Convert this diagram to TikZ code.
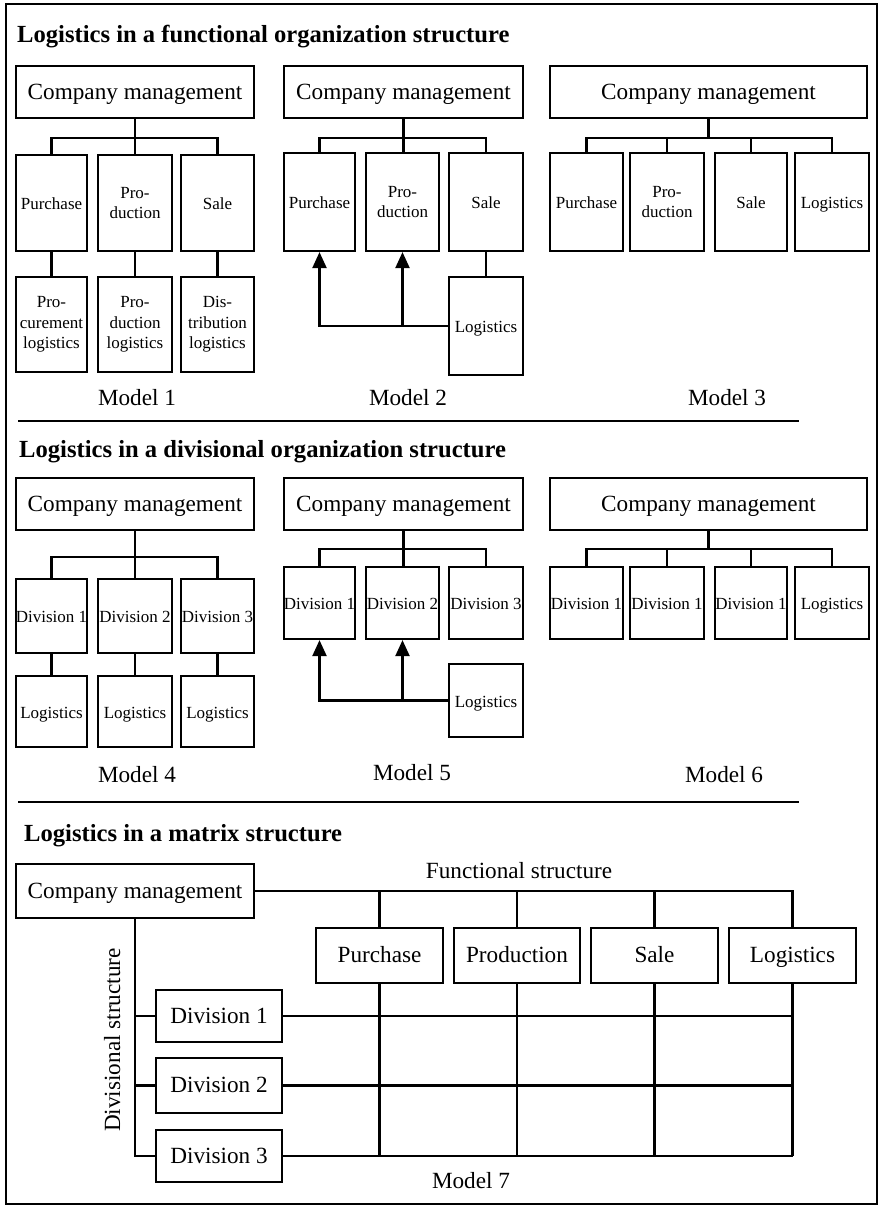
\documentclass[tikz,border=0pt]{standalone}
\usepackage{fontspec}
\setmainfont{Liberation Serif}
\usetikzlibrary{arrows.meta}
\newcommand{\fntbig}{\fontsize{23.2}{27}\selectfont}
\newcommand{\fntsmall}{\fontsize{17}{20.5}\selectfont}
\newcommand{\fnttitle}{\fontsize{24.6}{28}\selectfont\bfseries}
\newcommand{\bx}[7]{\node[#1,minimum width={#4-#2},minimum height={#5-#3}] (#6) at ({(#2+#4)/2},{(#3+#5)/2}) {#7};}
\begin{document}
\begin{tikzpicture}[x=1pt,y=-1pt,
  box/.style={draw,line width=2.2pt,inner sep=0pt,align=center,font=\fntsmall},
  sbox/.style={box,text height=16pt,text depth=2.3pt},
  bigbox/.style={box,font=\fntbig,text height=19pt,text depth=4.4pt},
  conn/.style={line width=2.2pt},
  arr/.style={conn,-{Triangle[length=16pt,width=14pt]}},
  lbl/.style={font=\fntbig,inner sep=0pt,anchor=base},
  ttl/.style={font=\fnttitle,inner sep=0pt,anchor=base west},
  sep/.style={line width=2.7pt}
]
\useasboundingbox (0,0) rectangle (879,1206);
\draw[line width=1.8pt] (6,4) rectangle (877,1204);

% ---------- Section 1 ----------
\node[ttl] (t1) at (17,43) {Logistics in a functional organization structure};

% Model 1
\bx{bigbox}{16}{66}{254}{118}{cma}{Company management}
\bx{sbox}{16}{155}{87}{251}{pua}{Purchase}
\bx{box}{98}{155}{172}{251}{pra}{Pro-\\duction}
\bx{sbox}{181}{155}{254}{251}{saa}{Sale}
\bx{box}{16}{277}{87}{372}{la1}{Pro-\\curement\\logistics}
\bx{box}{98}{277}{172}{372}{la2}{Pro-\\duction\\logistics}
\bx{box}{181}{277}{254}{372}{la3}{Dis-\\tribution\\logistics}
\draw[conn] (cma.south) -- ++(0,19) coordinate (ja);
\draw[conn] (pua.north) |- (ja) -| (saa.north);
\draw[conn] (ja) -- (ja |- pra.north);
\draw[conn] (pua.south) -- (la1.north);
\draw[conn] (pra.south) -- (la2.north);
\draw[conn] (saa.south) -- (la3.north);
\node[lbl] (m1) at (137,405) {Model 1};

% Model 2
\bx{bigbox}{284}{66}{523}{118}{cmb}{Company management}
\bx{sbox}{284}{153}{355}{251}{pub}{Purchase}
\bx{box}{366}{153}{439}{251}{prb}{Pro-\\duction}
\bx{sbox}{449}{153}{523}{251}{sab}{Sale}
\bx{sbox}{449}{277}{523}{375}{lob}{Logistics}
\draw[conn] (cmb.south) -- ++(0,19) coordinate (jb);
\draw[conn] (pub.north) |- (jb) -| (sab.north);
\draw[conn] (jb) -- (jb |- prb.north);
\draw[conn] (sab.south) -- (lob.north);
\draw[arr] (lob.west) -| (pub.south);
\draw[arr] (lob.west -| prb.south) -- (prb.south);
\node[lbl] (m2) at (408,405) {Model 2};

% Model 3
\bx{bigbox}{550}{66}{867}{118}{cmc}{Company management}
\bx{sbox}{550}{153}{623}{251}{puc}{Purchase}
\bx{box}{630}{153}{704}{251}{prc}{Pro-\\duction}
\bx{sbox}{715}{153}{787}{251}{sac}{Sale}
\bx{sbox}{795}{153}{869}{251}{loc}{Logistics}
\draw[conn] (cmc.south) -- ++(0,19) coordinate (jc);
\draw[conn] (puc.north) |- (jc) -| (loc.north);
\draw[conn] (prc.north) -- (prc.north |- jc);
\draw[conn] (sac.north) -- (sac.north |- jc);
\node[lbl] (m3) at (727,405) {Model 3};

\draw[sep] (18,421) -- (799,421);

% ---------- Section 2 ----------
\node[ttl] (t2) at (19,457) {Logistics in a divisional organization structure};

% Model 4
\bx{bigbox}{16}{478}{254}{530}{cmd}{Company management}
\bx{sbox}{16}{579}{87}{653}{d41}{Division 1}
\bx{sbox}{98}{579}{172}{653}{d42}{Division 2}
\bx{sbox}{181}{579}{254}{653}{d43}{Division 3}
\bx{sbox}{16}{676}{87}{747}{l41}{Logistics}
\bx{sbox}{98}{676}{172}{747}{l42}{Logistics}
\bx{sbox}{181}{676}{254}{747}{l43}{Logistics}
\draw[conn] (cmd.south) -- ++(0,26) coordinate (jd);
\draw[conn] (d41.north) |- (jd) -| (d43.north);
\draw[conn] (jd) -- (jd |- d42.north);
\draw[conn] (d41.south) -- (l41.north);
\draw[conn] (d42.south) -- (l42.north);
\draw[conn] (d43.south) -- (l43.north);
\node[lbl] (m4) at (137,782) {Model 4};

% Model 5
\bx{bigbox}{284}{478}{523}{530}{cme}{Company management}
\bx{sbox}{284}{567}{355}{639}{d51}{Division 1}
\bx{sbox}{366}{567}{439}{639}{d52}{Division 2}
\bx{sbox}{449}{567}{523}{639}{d53}{Division 3}
\bx{sbox}{449}{664}{523}{737}{l5}{Logistics}
\draw[conn] (cme.south) -- ++(0,18) coordinate (je);
\draw[conn] (d51.north) |- (je) -| (d53.north);
\draw[conn] (je) -- (je |- d52.north);
\draw[arr] (l5.west) -| (d51.south);
\draw[arr] (l5.west -| d52.south) -- (d52.south);
\node[lbl] (m5) at (412,780) {Model 5};

% Model 6
\bx{bigbox}{550}{478}{867}{530}{cmf}{Company management}
\bx{sbox}{550}{567}{623}{639}{d61}{Division 1}
\bx{sbox}{630}{567}{704}{639}{d62}{Division 1}
\bx{sbox}{715}{567}{787}{639}{d63}{Division 1}
\bx{sbox}{795}{567}{869}{639}{l6}{Logistics}
\draw[conn] (cmf.south) -- ++(0,18) coordinate (jf);
\draw[conn] (d61.north) |- (jf) -| (l6.north);
\draw[conn] (d62.north) -- (d62.north |- jf);
\draw[conn] (d63.north) -- (d63.north |- jf);
\node[lbl] (m6) at (724,782) {Model 6};

\draw[sep] (18,802) -- (799,802);

% ---------- Section 3 ----------
\node[ttl] (t3) at (24,841) {Logistics in a matrix structure};

\bx{bigbox}{16}{864}{254}{918}{cm7}{Company management}
\bx{bigbox}{316}{928}{443}{983}{f1}{Purchase}
\bx{bigbox}{454}{928}{580}{983}{f2}{Production}
\bx{bigbox}{591}{928}{718}{983}{f3}{Sale}
\bx{bigbox}{729}{928}{856}{983}{f4}{Logistics}
\bx{bigbox}{156}{990}{282}{1042}{dv1}{Division 1}
\bx{bigbox}{156}{1058}{282}{1113}{dv2}{Division 2}
\bx{bigbox}{156}{1130}{282}{1182}{dv3}{Division 3}

\node[lbl] (fs) at (519,878) {Functional structure};
\node[font=\fntbig,inner sep=0pt,anchor=base,rotate=90] (ds) at (120,1040) {Divisional structure};

\draw[conn] (cm7.east) -| (f4.north);
\foreach \f in {f1,f2,f3} \draw[conn] (cm7.east -| \f.north) -- (\f.north);
\draw[conn] (cm7.south) |- (dv3.west);
\foreach \d in {dv1,dv2} \draw[conn] (\d.west -| cm7.south) -- (\d.west);
\foreach \d in {dv1,dv2,dv3} \draw[conn] (\d.east) -- (\d.east -| f4.south);
\foreach \f in {f1,f2,f3,f4} \draw[conn] (\f.south) -- (\f.south |- dv3.east);

\node[lbl] (m7) at (471,1188) {Model 7};
\end{tikzpicture}
\end{document}
